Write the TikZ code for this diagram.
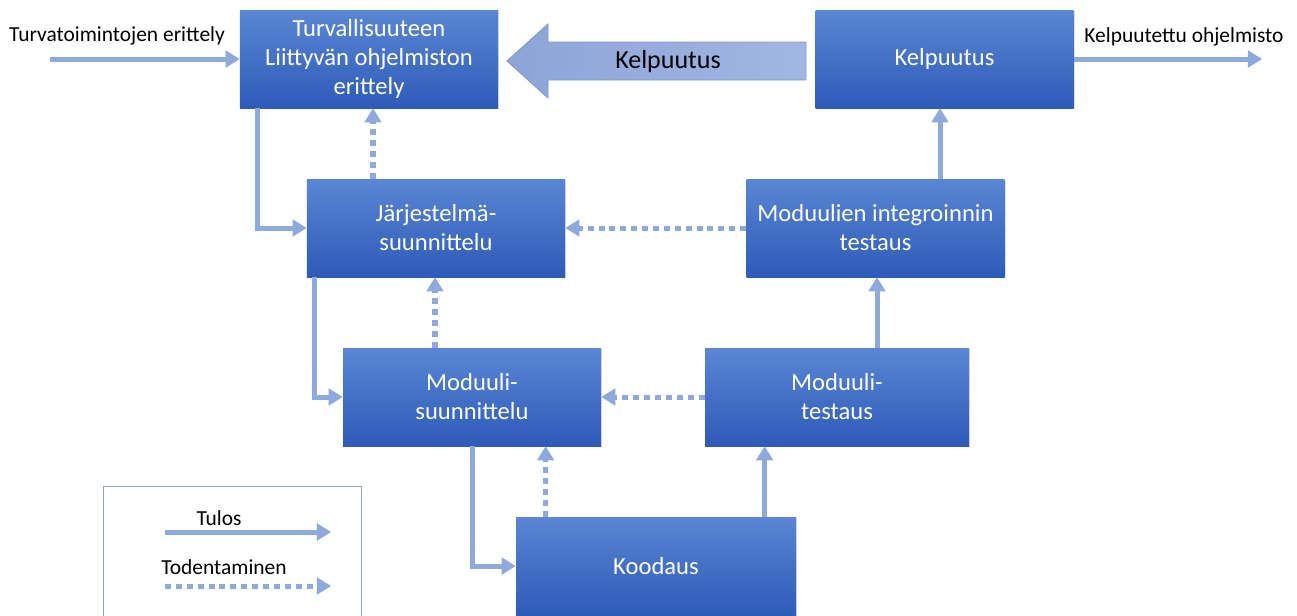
\documentclass[tikz,border=0pt]{standalone}
\usepackage{fontspec}
\setmainfont{Carlito}
\usetikzlibrary{arrows.meta, positioning, calc, shadows}
\definecolor{cBoxTop}{HTML}{5A86D4}
\definecolor{cBoxBot}{HTML}{2D5BB8}
\definecolor{cLink}{HTML}{8EA9DB}
\definecolor{cBigL}{HTML}{8CA4D7}
\definecolor{cBigR}{HTML}{A2B6E2}
\definecolor{cBigEdge}{HTML}{7F99CF}
\definecolor{cLegend}{HTML}{8FA2C4}
\tikzset{
  stagebox/.style={
    draw=none, top color=cBoxTop, bottom color=cBoxBot,
    minimum width=#1, minimum height=1.96cm,
    text=white, font=\fontsize{14}{16.5}\selectfont, align=center,
    drop shadow={opacity=0.25, shadow xshift=0.6pt, shadow yshift=-0.8pt},
  },
  stagebox/.default=5.16cm,
  result/.style={draw=cLink, line width=2.85pt,
    -{Triangle[length=8pt, width=10pt, line width=0pt]}},
  verify/.style={result, dash pattern=on 3.4pt off 2.8pt},
  bigarrow/.style={draw=cBigEdge, line width=0.5pt, left color=cBigL, right color=cBigR},
  sidelabel/.style={font=\fontsize{12.2}{14}\selectfont, text=black},
  legendbox/.style={draw=cLegend, line width=0.6pt, minimum width=5.16cm,
    minimum height=3.1cm, anchor=north west},
}

\begin{document}
\begin{tikzpicture}[x=0.2mm, y=-0.2mm]

  \useasboundingbox (0,0) rectangle (1297,615);

  % Stage boxes
  \node[stagebox] (spec) at (369,59)
    {Turvallisuuteen\\Liittyvän ohjelmiston\\erittely};
  \node[stagebox] (valid) at (944.5,59) {Kelpuutus};
  \node[stagebox] (sys) at (436,228) {Järjestelmä-\\suunnittelu};
  \node[stagebox] (integ) at (875.5,228) {Moduulien integroinnin\\testaus};
  \node[stagebox] (moddes) at (472,397) {Moduuli-\\suunnittelu};
  \node[stagebox=5.28cm] (modtest) at (837,397) {Moduuli-\\testaus};
  \node[stagebox=5.6cm] (code) at (656,566) {Koodaus};

  % Big validation arrow
  \path[bigarrow] (806,42) -- (548,42) -- (548,24) -- (507,61)
    -- (548,98) -- (548,80) -- (806,80) -- cycle;
  \node[font=\fontsize{14.8}{17}\selectfont, text=black] (kelpText) at (668,62) {Kelpuutus};

  % In and out
  \coordinate (inStart) at (50,59);
  \coordinate (outEnd) at (1262,59);
  \node[sidelabel] (inLbl) at (117,36) {Turvatoimintojen erittely};
  \node[sidelabel] (outLbl) at (1184,37) {Kelpuutettu ohjelmisto};
  \draw[result] (inStart) -- (spec.west);
  \draw[result] (valid.east) -- (outEnd);

  % Result flow
  \draw[result] ($(spec.south west)+(18,0)$) |- (sys.west);
  \draw[result] ($(sys.south west)+(8,0)$) |- (moddes.west);
  \draw[result] ($(moddes.south west)+(130,0)$) |- (code.west);
  \coordinate (rCode) at ($(code.north west)+(249,0)$);
  \draw[result] (rCode) -- (rCode |- modtest.south);
  \coordinate (rTest) at ($(modtest.north)+(40,0)$);
  \draw[result] (rTest) -- (rTest |- integ.south);
  \coordinate (rInteg) at ($(integ.north)+(64.5,0)$);
  \draw[result] (rInteg) -- (rInteg |- valid.south);

  % Verification
  \coordinate (vSys) at ($(sys.north)+(-63,0)$);
  \draw[verify] (vSys) -- (vSys |- spec.south);
  \coordinate (vMod) at ($(moddes.north)+(-37,0)$);
  \draw[verify] (vMod) -- (vMod |- sys.south);
  \coordinate (vCode) at ($(code.north west)+(30,0)$);
  \draw[verify] (vCode) -- (vCode |- moddes.south);
  \draw[verify] (modtest.west) -- (moddes.east);
  \draw[verify] (integ.west) -- (sys.east);

  % Legend
  \node[legendbox] (legend) at (103,486) {};
  \node[sidelabel] (tulosLbl) at (219,518) {Tulos};
  \coordinate (lgA1) at (165,532);
  \coordinate (lgA2) at (331,532);
  \draw[result] (lgA1) -- (lgA2);
  \node[sidelabel] (todLbl) at (224,567) {Todentaminen};
  \coordinate (lgB1) at (165,586);
  \coordinate (lgB2) at (331,586);
  \draw[verify] (lgB1) -- (lgB2);

\end{tikzpicture}
\end{document}
